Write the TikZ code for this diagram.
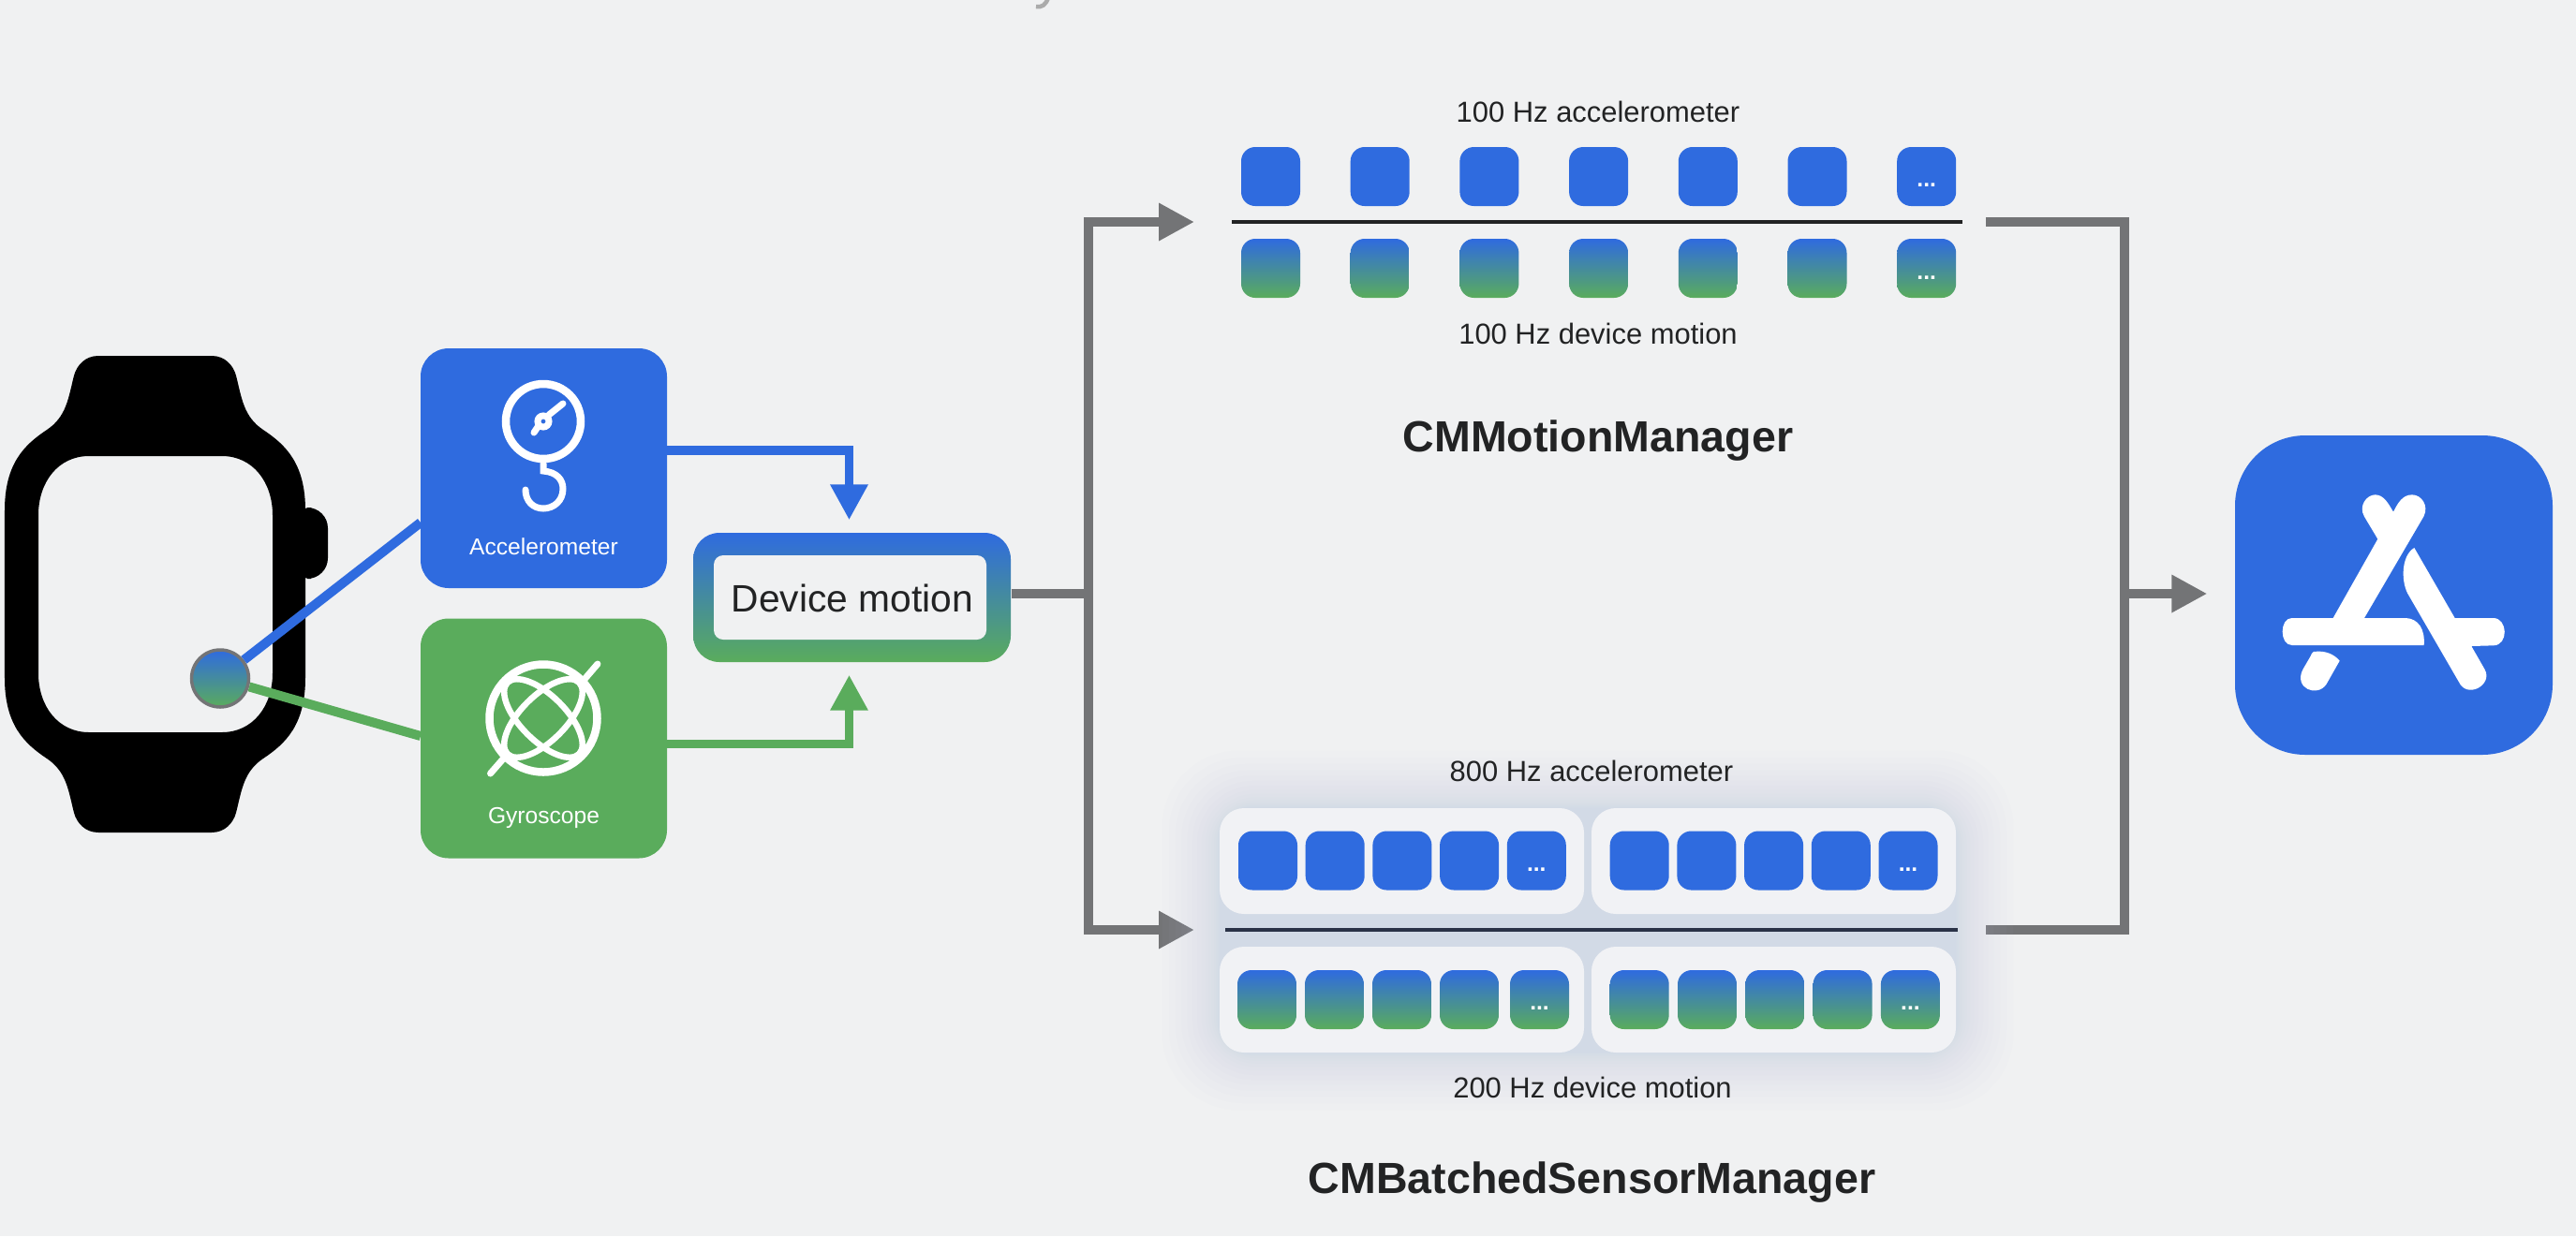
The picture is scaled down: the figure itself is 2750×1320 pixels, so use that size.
\documentclass[tikz,border=0pt]{standalone}
\usepackage{fontspec}
\setmainfont{Liberation Sans}
\usetikzlibrary{arrows.meta,positioning,calc}
\definecolor{PageBg}{HTML}{F0F1F2}
\definecolor{SensorBlue}{HTML}{2F6BDF}
\definecolor{SensorGreen}{HTML}{5AAC5C}
\definecolor{PipeGray}{HTML}{737476}
\definecolor{InkDark}{HTML}{222324}
\definecolor{PanelBg}{HTML}{F1F2F5}
\definecolor{GlowBlue}{HTML}{B9C8E6}
\definecolor{RuleNavy}{HTML}{2A3247}
\definecolor{TitleGray}{HTML}{ABABAB}
\tikzset{
  blend/.style={top color=SensorBlue,bottom color=SensorGreen,middle color=SensorBlue!50!SensorGreen},
  sensorbox/.style={rectangle,rounded corners=3mm,minimum width=26.3mm,minimum height=25.6mm,inner sep=0pt},
  pkt/.style={rectangle,rounded corners=1.5mm,minimum width=6.3mm,minimum height=6.3mm,inner sep=0pt},
  panel/.style={rectangle,rounded corners=2.6mm,fill=PanelBg,minimum width=38.9mm,minimum height=11.3mm,inner sep=0pt},
  caption/.style={anchor=base,inner sep=0pt,text=InkDark,font=\fontsize{8.8}{10}\selectfont},
  heading/.style={anchor=base,inner sep=0pt,text=InkDark,font=\fontsize{13.25}{15}\selectfont\bfseries},
  boxlabel/.style={anchor=base,inner sep=0pt,text=white,font=\fontsize{7}{8}\selectfont},
  more/.style={anchor=base,inner sep=0pt,text=white,font=\fontsize{7}{8}\selectfont\bfseries},
  pipe/.style={PipeGray,line width=1mm},
  pipearrow/.style={pipe,-{Triangle[length=3.8mm,width=3.8mm]}},
  icon/.style={white,line width=1mm,line cap=round}
}

\begin{document}
\begin{tikzpicture}[x=0.1mm,y=-0.1mm]
  \useasboundingbox (0,0) rectangle (2750,1320);
  \fill[PageBg] (0,0) rectangle (2750,1320);
  \draw[TitleGray,line width=0.45mm] (1106,7) .. controls (1113,8) and (1116,5) .. (1119,-2);

  \fill[black,rounded corners=2mm] (326,560) rectangle (350,600);
  \fill[black,rounded corners=2.2mm] (310,542) rectangle (350,618);
  \fill[black,even odd rule] (105,380) -- (226,380) .. controls (240,380) and (249,390) .. (252,401)
    .. controls (258,425) and (260,445) .. (281,459) .. controls (305,475) and (326,495) .. (326,545)
    -- (326,724) .. controls (326,774) and (305,794) .. (281,810) .. controls (260,824) and (258,844) .. (252,868)
    .. controls (249,879) and (240,889) .. (226,889) -- (105,889) .. controls (91,889) and (82,879) .. (79,868)
    .. controls (73,844) and (71,824) .. (50,810) .. controls (26,794) and (5,774) .. (5,724)
    -- (5,545) .. controls (5,495) and (26,475) .. (50,459) .. controls (71,445) and (73,425) .. (79,401)
    .. controls (82,390) and (91,380) .. (105,380) -- cycle
    (95,487) -- (237,487) .. controls (270,487) and (291,515) .. (291,550) -- (291,719)
    .. controls (291,754) and (270,782) .. (237,782) -- (95,782) .. controls (62,782) and (41,754) .. (41,719)
    -- (41,550) .. controls (41,515) and (62,487) .. (95,487) -- cycle;

  \node[circle,draw=PipeGray,line width=0.35mm,blend,minimum size=6.1mm,inner sep=0pt] (wristdot) at (235,724.5) {};
  \node[sensorbox,fill=SensorBlue] (accel) at (580.5,500) {};
  \node[sensorbox,fill=SensorGreen] (gyro) at (580.5,788.5) {};
  \node[boxlabel] (accellabel) at (580.5,592) {Accelerometer};
  \node[boxlabel] (gyrolabel) at (580.5,879.5) {Gyroscope};

  \coordinate (accelin) at (449,558);
  \coordinate (gyroin) at (449,786);
  \coordinate (accelout) at (712,481);
  \coordinate (gyroout) at (712,794.5);
  \draw[SensorBlue,line width=1mm] (wristdot) -- (accelin);
  \draw[SensorGreen,line width=1mm] (wristdot) -- (gyroin);

  \draw[icon,line width=0.85mm] (580,450) circle[radius=40];
  \draw[white,line width=0.7mm] (580,450) circle[radius=6];
  \draw[icon,line width=0.7mm] (586,443) -- (601,431) (574,456) -- (570,462);
  \draw[icon,line width=0.7mm] (580,495) -- (580,503) .. controls (594,504) and (601,512) .. (601,522)
    .. controls (601,535) and (591,543) .. (580,543) .. controls (569,543) and (561,535) .. (561,523);

  \draw[icon,line width=0.85mm] (580,767) circle[radius=57.5];
  \draw[white,line width=0.65mm] (580,767) ellipse[x radius=54,y radius=24,rotate=45];
  \draw[white,line width=0.65mm] (580,767) ellipse[x radius=54,y radius=24,rotate=-45];
  \draw[icon,line width=0.7mm] (523.5,826) -- (541,806) (638,709) -- (620,730);

  \node[rectangle,rounded corners=2.8mm,blend,minimum width=33.9mm,minimum height=13.8mm,inner sep=0pt] (device) at (909.5,638) {};
  \node[rectangle,rounded corners=1mm,fill=PageBg,minimum width=29.1mm,minimum height=9mm,inner sep=0pt] (deviceinner) at (907.5,638) {};
  \node[anchor=base,inner sep=0pt,text=InkDark,font=\fontsize{11.6}{14}\selectfont] (devicelabel) at (910,653) {Device motion};

  \draw[SensorBlue,line width=0.95mm,-{Triangle[length=3.8mm,width=3.8mm]},shorten >=1.3mm] (accelout) -| ([xshift=-0.3mm]device.north);
  \draw[SensorGreen,line width=0.95mm,-{Triangle[length=3.8mm,width=3.8mm]},shorten >=1.3mm] (gyroout) -| ([xshift=-0.3mm]device.south);

  \coordinate (motionL) at (1315,237);
  \coordinate (motionR) at (2094.5,237);
  \coordinate (batchedL) at (1308,993);
  \coordinate (batchedR) at (2090,993);
  \coordinate (hub) at (1162,634);
  \coordinate (sink) at (2268,634);
  \node[rectangle,rounded corners=7.5mm,fill=SensorBlue,minimum width=33.9mm,minimum height=34.1mm,inner sep=0pt] (appstore) at (2555.5,635.5) {};

  \draw[pipe] (device.east |- hub) -- (hub);
  \draw[pipearrow,shorten >=4mm] (hub) |- (motionL);
  \draw[pipearrow,shorten >=3.3mm] (hub) |- (batchedL);
  \draw[pipe] ([xshift=2.55mm]motionR) -| (sink);
  \draw[pipe] ([xshift=3mm]batchedR) -| (sink);
  \draw[pipearrow,shorten >=2.9mm] (sink) -- (appstore.west |- sink);

  \begin{scope}[shift={(2300,430)},scale=1/3]
    \fill[white] (765,350) .. controls (780,320) and (795,295) .. (825,295) .. controls (855,295) and (880,330) .. (862,365)
      -- (672,690) -- (805,690) .. controls (845,692) and (867,725) .. (863,777) -- (440,777)
      .. controls (400,777) and (400,690) .. (440,690) -- (572,690) -- (715,437) -- (672,365)
      .. controls (652,330) and (680,295) .. (707,295) .. controls (735,295) and (750,325) .. (765,350) -- cycle;
    \fill[white] (832,465) -- (962,690) -- (1085,690) .. controls (1132,690) and (1135,778) .. (1085,778)
      -- (1015,780) -- (1058,855) .. controls (1085,905) and (1000,950) .. (975,895)
      -- (810,610) .. controls (790,570) and (790,490) .. (832,465) -- cycle;
    \fill[white] (510,798) .. controls (545,793) and (575,805) .. (593,827) -- (550,903)
      .. controls (520,945) and (445,915) .. (475,855) -- (500,812) .. controls (503,805) and (505,800) .. (510,798) -- cycle;
  \end{scope}

  \node[caption] (rate100a) at (1706,130) {100 Hz accelerometer};
  \foreach \i in {0,...,6} {
    \node[pkt,fill=SensorBlue] (motiona\i) at (1356.5+116.7*\i,188.5) {};
    \node[pkt,blend] (motiond\i) at (1356.5+116.7*\i,286.5) {};
  }
  \node[more] (morea) at (motiona6 |- 0,199) {...};
  \node[more] (mored) at (motiond6 |- 0,298) {...};
  \draw[InkDark,line width=0.35mm] (motionL) -- (motionR);
  \node[caption] (rate100d) at (1706,367) {100 Hz device motion};
  \node[heading] (motionmgr) at (1706,482) {CMMotionManager};

  \foreach \g in {1,...,16} {
    \fill[GlowBlue,opacity=0.035,rounded corners=2.6mm+\g*0.35mm] (1302-0.24*\g*\g,863-0.24*\g*\g) rectangle (2088+0.24*\g*\g,1124+0.24*\g*\g);
  }
  \node[panel] (batchTL) at (1496.5,919.5) {};
  \node[panel] (batchTR) at (1893.5,919.5) {};
  \node[panel] (batchBL) at (1496.5,1067.5) {};
  \node[panel] (batchBR) at (1893.5,1067.5) {};
  \node[caption] (rate800a) at (1699,834) {800 Hz accelerometer};
  \foreach \i in {0,...,4} {
    \node[pkt,fill=SensorBlue] (batchal\i) at (1353.5+71.7*\i,919) {};
    \node[pkt,fill=SensorBlue] (batchar\i) at (1750.2+71.7*\i,919) {};
    \node[pkt,blend] (batchdr\i) at (1750.2+72.3*\i,1067.5) {};
  }
  \foreach \i in {0,...,3} {
    \node[pkt,blend] (batchdl\i) at (1352.5+72*\i,1067.5) {};
  }
  \node[pkt,blend] (batchdl4) at (1643.5,1067.5) {};
  \node[more] (moreal) at (batchal4 |- 0,930) {...};
  \node[more] (morear) at (batchar4 |- 0,930) {...};
  \node[more] (moredl) at (batchdl4 |- 0,1078) {...};
  \node[more] (moredr) at (batchdr4 |- 0,1078) {...};
  \draw[RuleNavy,line width=0.4mm] (batchedL) -- (batchedR);
  \node[caption] (rate200d) at (1700,1172) {200 Hz device motion};
  \node[heading] (batchedmgr) at (1699.5,1274) {CMBatchedSensorManager};
\end{tikzpicture}
\end{document}
